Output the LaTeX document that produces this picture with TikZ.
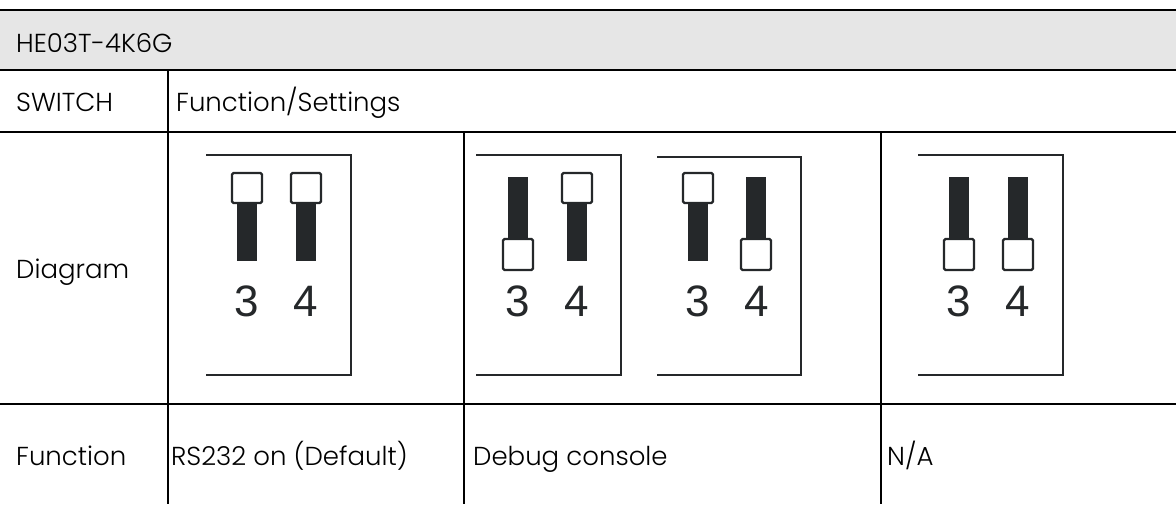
\documentclass[tikz,border=0pt]{standalone}
\usepackage{fontspec}
\usepackage{tikz}
\usetikzlibrary{positioning}
\setmainfont{Poppins}[UprightFont=* Light]
\newfontfamily\digitfamily{Liberation Sans}
\definecolor{headgray}{RGB}{230,230,230}
\definecolor{swdark}{RGB}{37,40,42}

\begin{document}
\begin{tikzpicture}[x=1pt, y=-1pt,
    rule/.style={line width=2pt, black},
    cell/.style={anchor=base west, inner sep=0pt, font=\fontsize{26}{30}\selectfont},
    frame/.style={line width=2pt, draw=swdark},
    bar/.style={fill=swdark},
    knob/.style={draw=swdark, fill=white, line width=2.2pt, rounded corners=1.5pt},
    digit/.style={inner sep=0pt, text=swdark, font=\digitfamily\fontsize{44}{44}\selectfont}]
            \useasboundingbox (0,0) rectangle (1176,504);
            \fill[headgray] (0,10) rectangle (1176,70);

            % table rules
            \draw[rule] (0,10) -- (1176,10);
            \draw[rule] (0,70) -- (1176,70);
            \draw[rule] (0,132) -- (1176,132);
            \draw[rule] (0,404) -- (1176,404);
            \draw[rule] (168,70) -- (168,504);
            \draw[rule] (464,132) -- (464,504);
            \draw[rule] (881,132) -- (881,504);

            % texts
            \node[cell] (title) at (16,52) {HE03T-4K6G};
            \node[cell] (switch) at (16,111) {SWITCH};
            \node[cell] (settings) at (176,111) {Function/Settings};
            \node[cell] (diagram) at (16,278) {Diagram};
            \node[cell] (function) at (16,465) {Function};
            \node[cell] (rs232) at (171,465) {RS232 on (Default)};
            \node[cell] (debug) at (473,465) {Debug console};
            \node[cell] (na) at (887,465) {N/A};

            % frames
            \draw[frame] (206,155) -- (351,155) -- (351,375) -- (206,375);
            \draw[frame] (476,155) -- (621,155) -- (621,375) -- (476,375);
            \draw[frame] (657,157) -- (801,157) -- (801,375) -- (657,375);
            \draw[frame] (918,155) -- (1063,155) -- (1063,375) -- (918,375);

            % switches, up
            \fill[bar] (237,203) rectangle (257,261);
            \draw[knob] (232,173) rectangle (262,203);
            \fill[bar] (296,203) rectangle (316,261);
            \draw[knob] (291,173) rectangle (321,203);
            \fill[bar] (567,203) rectangle (587,261);
            \draw[knob] (562,173) rectangle (592,203);
            \fill[bar] (688,203) rectangle (708,261);
            \draw[knob] (683,173) rectangle (713,203);

            % switches, down
            \fill[bar] (508,177) rectangle (528,239);
            \draw[knob] (503,239) rectangle (533,270);
            \fill[bar] (746,177) rectangle (766,239);
            \draw[knob] (741,239) rectangle (771,270);
            \fill[bar] (949,177) rectangle (969,239);
            \draw[knob] (944,239) rectangle (974,270);
            \fill[bar] (1008,177) rectangle (1028,239);
            \draw[knob] (1003,239) rectangle (1033,270);

            % numbers
            \node[digit] (a3) at (247,301) {3};
            \node[digit] (a4) at (306,301) {4};
            \node[digit] (b3) at (518,301) {3};
            \node[digit] (b4) at (577,301) {4};
            \node[digit] (c3) at (698,301) {3};
            \node[digit] (c4) at (757,301) {4};
            \node[digit] (d3) at (959,301) {3};
            \node[digit] (d4) at (1018,301) {4};
        \end{tikzpicture}
\end{document}
